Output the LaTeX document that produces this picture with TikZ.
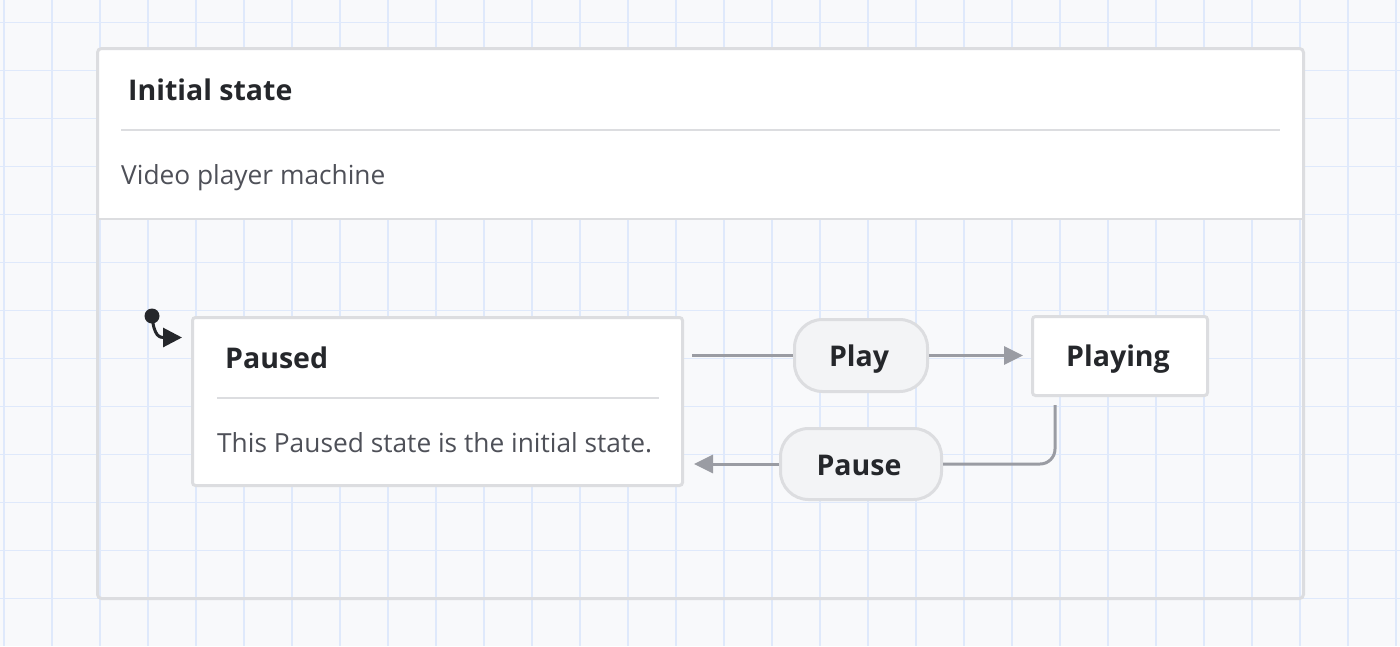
\documentclass[tikz,border=0pt]{standalone}
\usepackage{fontspec}
\setmainfont{Open Sans}
\usetikzlibrary{arrows.meta}
\definecolor{bgc}{HTML}{F8F9FB}
\definecolor{gridc}{HTML}{DFE9FB}
\definecolor{bordc}{HTML}{DCDDE0}
\definecolor{arrc}{HTML}{9A9CA3}
\definecolor{txtc}{HTML}{25272B}
\definecolor{subc}{HTML}{4E5058}
\definecolor{pillc}{HTML}{F3F4F6}
\tikzset{
  statebox/.style={draw=bordc, line width=3pt, fill=white, rounded corners=3pt, inner sep=0pt},
  pill/.style={draw=bordc, line width=3pt, fill=pillc, rounded corners=28pt, inner sep=0pt},
  titletxt/.style={font=\fontsize{28.5}{32}\selectfont\bfseries, text=txtc, inner sep=0pt},
  desctxt/.style={font=\fontsize{26.3}{30}\selectfont, text=subc, inner sep=0pt},
  sepline/.style={draw=bordc, line width=2pt},
  conn/.style={draw=arrc, line width=3pt},
  tip/.style={-{Triangle[length=19pt,width=18pt]}}
}
\begin{document}
\begin{tikzpicture}[x=1pt,y=-1pt]
\fill[bgc] (0,0) rectangle (1400,646);
\useasboundingbox (0,0) rectangle (1400,646);
\foreach \i in {0,...,29} \draw[gridc,line width=1.5pt] (4+48*\i,0) -- (4+48*\i,646);
\foreach \j in {0,...,12} \draw[gridc,line width=1.5pt] (0,22.5+48*\j) -- (1400,22.5+48*\j);
% machine container
\fill[white] (98,49) rectangle (1303,219);
\draw[sepline] (98,219) -- (1303,219);
\node[draw=bordc, line width=3pt, rounded corners=4pt, minimum width=1206pt, minimum height=550pt, inner sep=0pt] (machine) at (700.5,323.5) {};
\node[titletxt, anchor=base west] (mtitle) at (128,100) {Initial state};
\draw[sepline] (121,130) -- (1280,130);
\node[desctxt, anchor=base west] (mdesc) at (121,184) {Video player machine};
% states
\node[statebox, minimum width=490pt, minimum height=168pt] (paused) at (437.5,401.5) {};
\node[titletxt, anchor=base west] (ptitle) at (225,368) {Paused};
\draw[sepline] (217,398) -- (659,398);
\node[desctxt, anchor=base west] (pdesc) at (217,452) {This Paused state is the initial state.};
\node[statebox, minimum width=175pt, minimum height=79pt] (playing) at (1120,356) {};
\node[titletxt, anchor=base] (pltitle) at (1118,366) {Playing};
% event pills
\node[pill, minimum width=133pt, minimum height=72pt] (play) at (861,355.5) {};
\node[titletxt, anchor=base] at (859,366) {Play};
\node[pill, minimum width=161pt, minimum height=71pt] (pause) at (861,464) {};
\node[titletxt, anchor=base] at (859,475) {Pause};
% connectors
\coordinate (pA) at (692,355.5);
\coordinate (pB) at (1023,355.5);
\draw[conn] (pA) -- (play.west);
\draw[conn, tip, fill=arrc] (play.east) -- (pB);
\coordinate (qA) at (1055,405);
\coordinate (qB) at (694,464);
\draw[conn, rounded corners=15pt] (qA) |- (pause.east);
\draw[conn, tip, fill=arrc] (pause.west) -- (qB);
% initial marker
\coordinate (ini) at (152,316);
\coordinate (iniEnd) at (182,337.5);
\fill[txtc] (ini) circle (7.5pt);
\draw[txtc, line width=3pt, -{Triangle[length=19pt,width=19pt]}] (ini) .. controls (154,337) and (160,337.5) .. (iniEnd);
\end{tikzpicture}
\end{document}
